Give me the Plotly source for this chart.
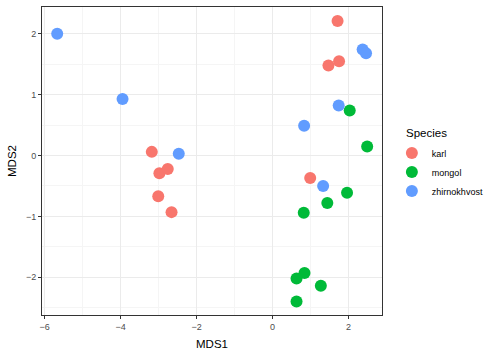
import plotly.graph_objects as go

species = ["karl", "mongol", "zhirnokhvost"]
colors = ["#F8766D", "#00BA38", "#619CFF"]

karl_x = [-3.18, -2.98, -2.76, -3.01, -2.66, 1.71, 1.47, 1.75, 0.99]
karl_y = [0.06, -0.29, -0.22, -0.67, -0.93, 2.21, 1.48, 1.55, -0.37]
mongol_x = [2.03, 2.49, 1.96, 1.44, 0.82, 0.84, 0.63, 1.27, 0.63]
mongol_y = [0.74, 0.15, -0.61, -0.78, -0.94, -1.93, -2.02, -2.14, -2.40]
zhir_x = [-5.67, -3.95, -2.47, 2.37, 2.46, 1.74, 0.83, 1.33]
zhir_y = [2.00, 0.93, 0.03, 1.74, 1.68, 0.82, 0.49, -0.50]

xs = [karl_x, mongol_x, zhir_x]
ys = [karl_y, mongol_y, zhir_y]

fig = go.Figure()
for name, c, x, y in zip(species, colors, xs, ys):
    fig.add_trace(go.Scatter(x=x, y=y, mode="markers", name=name,
                             marker=dict(color=c, size=12, line=dict(width=0))))

axis_common = dict(
    showgrid=True, gridcolor="#EBEBEB", gridwidth=1,
    zeroline=False, showline=True, linecolor="#333333", linewidth=1, mirror=True,
    ticks="outside", ticklen=3, tickcolor="#333333", tickwidth=1,
    tickfont=dict(family="Liberation Sans, Arial", size=9, color="#4D4D4D"),
    minor=dict(showgrid=True, gridcolor="#F5F5F5", gridwidth=0.5),
    automargin=False,
)

fig.update_layout(
    width=504, height=360,
    margin=dict(l=42, r=122, t=7, b=45, autoexpand=False),
    paper_bgcolor="white", plot_bgcolor="white",
    font=dict(family="Liberation Sans, Arial", color="black"),
    xaxis=dict(range=[-6.07, 2.88], tick0=0, dtick=2,
               title=dict(text="MDS1", font=dict(size=11.5, color="black"), standoff=9),
               **axis_common),
    yaxis=dict(range=[-2.62, 2.44], tick0=0, dtick=1,
               title=dict(text="MDS2", font=dict(size=11.5, color="black"), standoff=6),
               **axis_common),
    legend=dict(font=dict(size=9, color="black"),
                x=1.029, xanchor="left", y=0.464, yanchor="middle",
                itemsizing="constant", itemwidth=30, tracegroupgap=0,
                bgcolor="rgba(0,0,0,0)"),
    annotations=[dict(text="Species", xref="paper", yref="paper",
                      x=1.065, y=0.591, xanchor="left", yanchor="middle",
                      showarrow=False, font=dict(size=11.5, color="black"))],
)
fig.update_xaxes(minor=dict(dtick=1, tick0=0))
fig.update_yaxes(minor=dict(dtick=0.5, tick0=0))

fig.write_html("out.html", config={"displayModeBar": False},
               post_script="document.body.style.margin='0';document.body.style.padding='0';")
